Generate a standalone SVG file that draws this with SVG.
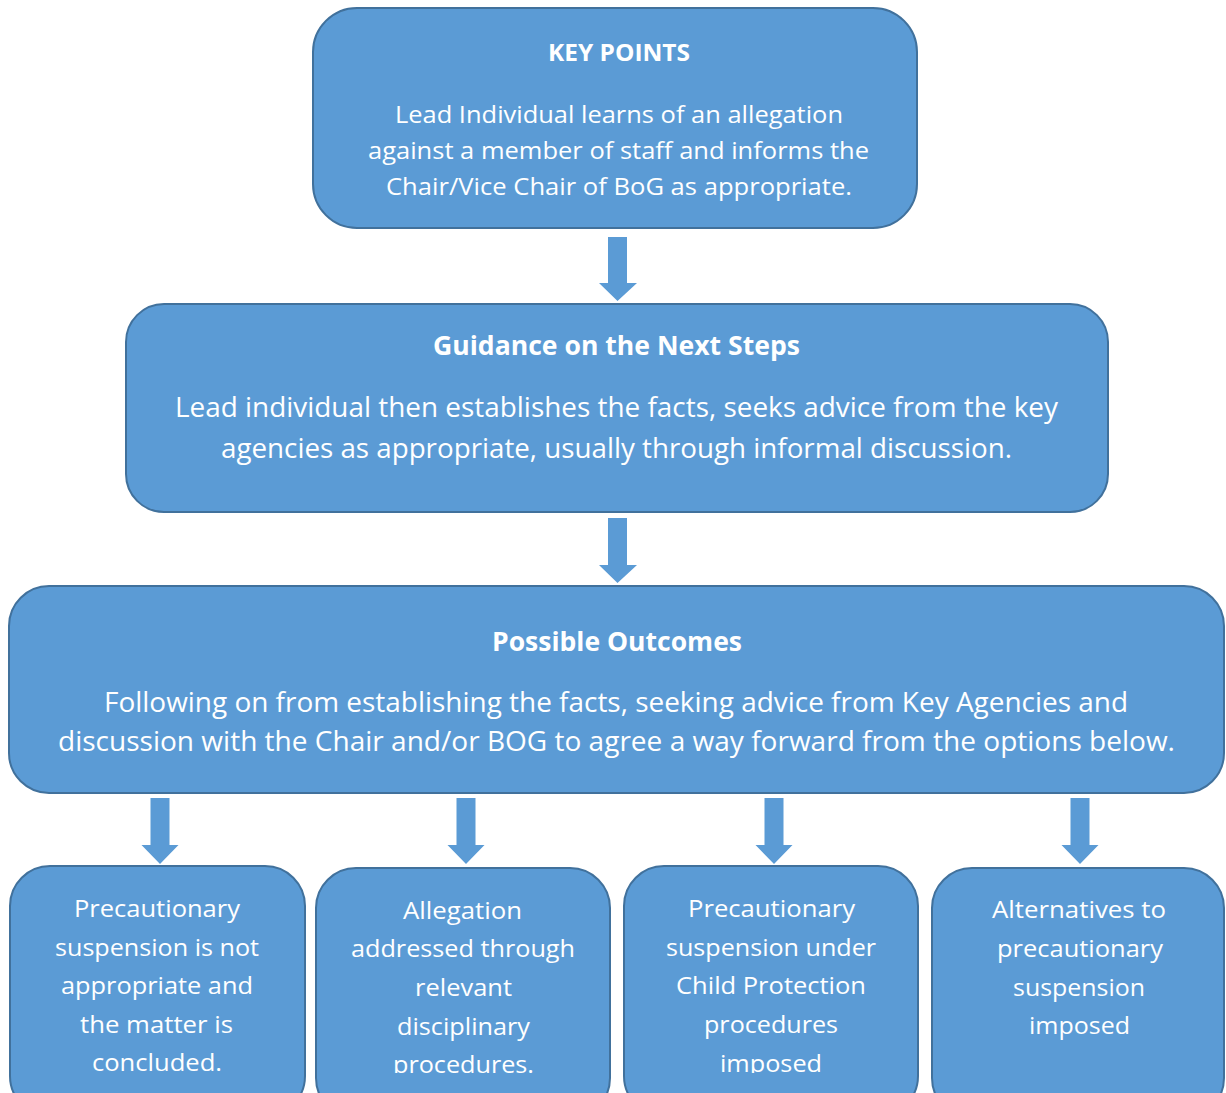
<svg xmlns="http://www.w3.org/2000/svg" width="1226" height="1093" viewBox="0 0 1226 1093">
<style>
.box{fill:#5B9BD5;stroke:#41719C;stroke-width:2}
.arr{fill:#5B9BD5}
text{fill:#FFFFFF;font-family:"Open Sans","Liberation Sans",sans-serif;text-anchor:middle}
.t{font-weight:bold}
.s{font-size:24px}
.m{font-size:26.5px}
</style>
<defs>
<clipPath id="clipB"><rect x="0" y="0" width="1226" height="1073"/></clipPath>
</defs>
<rect width="1226" height="1093" fill="#FFFFFF"/>
<g id="connectors">
<polygon class="arr" points="608,237 627,237 627,283 637,283 617.5,301 599,283 608,283"/>
<polygon class="arr" points="608,518 627,518 627,565 637,565 617.5,583 599,565 608,565"/>
<polygon class="arr" points="150.5,798 169.5,798 169.5,845 178.5,845 160,864 141.5,845 150.5,845"/>
<polygon class="arr" points="456.5,798 475.5,798 475.5,845 484.5,845 466,864 447.5,845 456.5,845"/>
<polygon class="arr" points="764.5,798 783.5,798 783.5,845 792.5,845 774,864 755.5,845 764.5,845"/>
<polygon class="arr" points="1070.5,798 1089.5,798 1089.5,845 1098.5,845 1080,864 1061.5,845 1070.5,845"/>
</g>
<g id="node-keypoints">
<rect class="box" x="313" y="8" width="604" height="220" rx="44"/>
<text class="t" x="619" y="61" font-size="24" textLength="142" lengthAdjust="spacingAndGlyphs">KEY POINTS</text>
<text class="s" x="619" y="123" textLength="448" lengthAdjust="spacingAndGlyphs">Lead Individual learns of an allegation</text>
<text class="s" x="618.5" y="159" textLength="501" lengthAdjust="spacingAndGlyphs">against a member of staff and informs the</text>
<text class="s" x="619" y="195" textLength="466" lengthAdjust="spacingAndGlyphs">Chair/Vice Chair of BoG as appropriate.</text>
</g>
<g id="node-guidance">
<rect class="box" x="126" y="304" width="982" height="208" rx="38"/>
<text class="t" x="616.5" y="355" font-size="27" textLength="367" lengthAdjust="spacingAndGlyphs">Guidance on the Next Steps</text>
<text class="m" x="616.5" y="417" textLength="883" lengthAdjust="spacingAndGlyphs">Lead individual then establishes the facts, seeks advice from the key</text>
<text class="m" x="616.5" y="458" textLength="791" lengthAdjust="spacingAndGlyphs">agencies as appropriate, usually through informal discussion.</text>
</g>
<g id="node-outcomes">
<rect class="box" x="9" y="586" width="1215" height="207" rx="40"/>
<text class="t" x="617" y="651" font-size="27" textLength="250" lengthAdjust="spacingAndGlyphs">Possible Outcomes</text>
<text class="m" x="616" y="712" textLength="1024" lengthAdjust="spacingAndGlyphs">Following on from establishing the facts, seeking advice from Key Agencies and</text>
<text class="m" x="616.5" y="751" textLength="1117" lengthAdjust="spacingAndGlyphs">discussion with the Chair and/or BOG to agree a way forward from the options below.</text>
</g>
<g id="node-option1">
<rect class="box" x="10" y="866" width="295" height="250" rx="40"/>
<text class="s" x="157" y="917" textLength="166" lengthAdjust="spacingAndGlyphs">Precautionary</text>
<text class="s" x="157" y="956" textLength="204" lengthAdjust="spacingAndGlyphs">suspension is not</text>
<text class="s" x="157" y="994" textLength="192" lengthAdjust="spacingAndGlyphs">appropriate and</text>
<text class="s" x="156.5" y="1033" textLength="153" lengthAdjust="spacingAndGlyphs">the matter is</text>
<text class="s" x="157" y="1071" textLength="130" lengthAdjust="spacingAndGlyphs">concluded.</text>
</g>
<g id="node-option2">
<rect class="box" x="316" y="868" width="294" height="250" rx="40"/>
<g clip-path="url(#clipB)">
<text class="s" x="462.5" y="919" textLength="119" lengthAdjust="spacingAndGlyphs">Allegation</text>
<text class="s" x="463" y="957" textLength="224" lengthAdjust="spacingAndGlyphs">addressed through</text>
<text class="s" x="463.5" y="996" textLength="97" lengthAdjust="spacingAndGlyphs">relevant</text>
<text class="s" x="463.5" y="1035" textLength="133" lengthAdjust="spacingAndGlyphs">disciplinary</text>
<text class="s" x="463.5" y="1073" textLength="141" lengthAdjust="spacingAndGlyphs">procedures.</text>
</g>
</g>
<g id="node-option3">
<rect class="box" x="624" y="866" width="294" height="250" rx="40"/>
<g clip-path="url(#clipB)">
<text class="s" x="771.5" y="917" textLength="167" lengthAdjust="spacingAndGlyphs">Precautionary</text>
<text class="s" x="771" y="956" textLength="210" lengthAdjust="spacingAndGlyphs">suspension under</text>
<text class="s" x="771" y="994" textLength="190" lengthAdjust="spacingAndGlyphs">Child Protection</text>
<text class="s" x="771" y="1033" textLength="134" lengthAdjust="spacingAndGlyphs">procedures</text>
<text class="s" x="771" y="1072" textLength="102" lengthAdjust="spacingAndGlyphs">imposed</text>
</g>
</g>
<g id="node-option4">
<rect class="box" x="932" y="868" width="292" height="250" rx="40"/>
<text class="s" x="1079" y="918" textLength="174" lengthAdjust="spacingAndGlyphs">Alternatives to</text>
<text class="s" x="1080" y="957" textLength="166" lengthAdjust="spacingAndGlyphs">precautionary</text>
<text class="s" x="1079" y="996" textLength="132" lengthAdjust="spacingAndGlyphs">suspension</text>
<text class="s" x="1079.5" y="1034" textLength="101" lengthAdjust="spacingAndGlyphs">imposed</text>
</g>
</svg>
